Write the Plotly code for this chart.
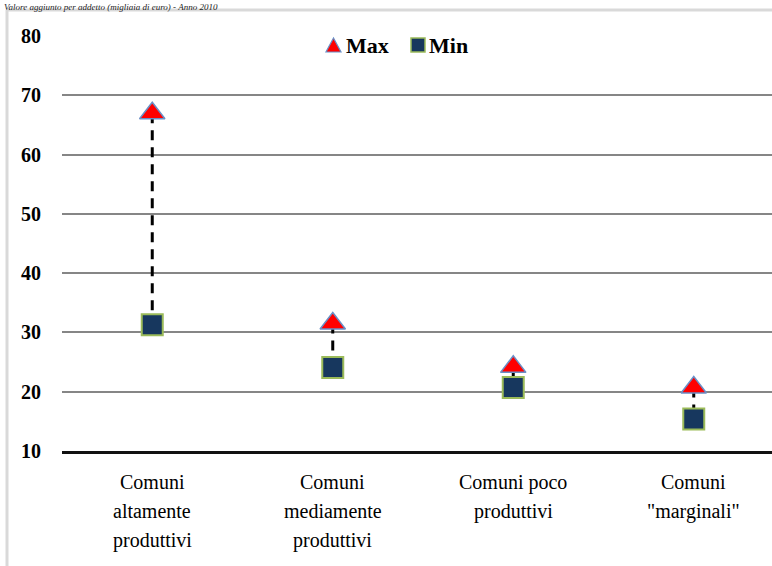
import plotly.graph_objects as go

# Valore aggiunto per addetto (migliaia di euro): massimo e minimo per gruppo di comuni
categories = ["Comuni\naltamente\nproduttivi",
              "Comuni\nmediamente\nproduttivi",
              "Comuni poco\nproduttivi",
              "Comuni\n\"marginali\""]
max_values = [67.0, 31.5, 24.2, 20.7]
min_values = [31.3, 24.1, 20.7, 15.4]
series_names = ["Max", "Min"]
y_ticks = [10, 20, 30, 40, 50, 60, 70, 80]
title_text = "Valore aggiunto per addetto (migliaia di euro) - Anno 2010"

SERIF = "Liberation Serif, Times New Roman, serif"
W, H = 772, 566
L, R, T, B = 62, 0, 36, 115
plot_w, plot_h = W - L - R, H - T - B

MAX_FILL, MAX_EDGE = "#FF0000", "#6A8FC6"
MIN_FILL, MIN_EDGE = "#17375E", "#9BBB59"


def px_x(p):
    return (p - L) / plot_w


def px_y(p):
    return (H - B - p) / plot_h


xs = list(range(len(categories)))

fig = go.Figure()

# high-low connectors
line_x, line_y = [], []
for i in xs:
    line_x += [i, i, None]
    line_y += [max_values[i], min_values[i], None]
fig.add_trace(go.Scatter(
    x=line_x, y=line_y, mode="lines",
    line=dict(color="black", width=3, dash="10px,7px"),
    showlegend=False, hoverinfo="skip"))

fig.add_trace(go.Scatter(
    x=xs, y=max_values, mode="markers", name=series_names[0],
    showlegend=False,
    marker=dict(symbol="triangle-up", size=22, color=MAX_FILL,
                line=dict(color=MAX_EDGE, width=1.5))))

fig.add_trace(go.Scatter(
    x=xs, y=min_values, mode="markers", name=series_names[1],
    showlegend=False,
    marker=dict(symbol="square", size=21, color=MIN_FILL,
                line=dict(color=MIN_EDGE, width=2))))

annotations = []
# category labels, one line per annotation
for i, cat in enumerate(categories):
    for j, line in enumerate(cat.split("\n")):
        annotations.append(dict(
            x=i, xref="x", y=px_y(482 + 29 * j), yref="paper",
            text=line, showarrow=False, xanchor="center", yanchor="middle",
            font=dict(family=SERIF, size=20, color="black")))

# heading above the chart frame
annotations.append(dict(
    x=px_x(2), xref="paper", y=px_y(0), yref="paper",
    text="<i>" + title_text + "</i>", showarrow=False,
    xanchor="left", yanchor="top",
    font=dict(family=SERIF, size=9, color="#222222")))

# legend entries
legend_font = dict(family=SERIF, size=22, color="black", weight="bold")
annotations.append(dict(x=px_x(344), xref="paper", y=px_y(45), yref="paper",
                        text="<b>" + series_names[0] + "</b>", showarrow=False,
                        xanchor="left", yanchor="middle", font=legend_font))
annotations.append(dict(x=px_x(427), xref="paper", y=px_y(45), yref="paper",
                        text="<b>" + series_names[1] + "</b>", showarrow=False,
                        xanchor="left", yanchor="middle", font=legend_font))

shapes = [
    # chart frame (left and top edges)
    dict(type="line", xref="paper", yref="paper",
         x0=px_x(7), x1=px_x(7), y0=px_y(H + 5), y1=px_y(10),
         line=dict(color="#D9D9D9", width=3)),
    dict(type="line", xref="paper", yref="paper",
         x0=px_x(7), x1=px_x(W + 5), y0=px_y(10), y1=px_y(10),
         line=dict(color="#D9D9D9", width=3)),
    # legend keys
    dict(type="path", xref="paper", yref="paper",
         path="M {} {} L {} {} L {} {} Z".format(
             px_x(326), px_y(52), px_x(341), px_y(52), px_x(333.5), px_y(38)),
         fillcolor=MAX_FILL, line=dict(color=MAX_EDGE, width=1.2)),
    dict(type="rect", xref="paper", yref="paper",
         x0=px_x(411), x1=px_x(425), y0=px_y(52), y1=px_y(38),
         fillcolor=MIN_FILL, line=dict(color=MIN_EDGE, width=1.5)),
]

fig.update_layout(
    width=W, height=H,
    margin=dict(l=L, r=R, t=T, b=B, pad=0),
    paper_bgcolor="white", plot_bgcolor="white",
    showlegend=False,
    annotations=annotations,
    shapes=shapes,
    xaxis=dict(range=[-0.5, -0.5 + plot_w / 180.5], showgrid=False,
               zeroline=False, showticklabels=False, ticks="",
               showline=True, linecolor="#111111", linewidth=2.5,
               fixedrange=True),
    yaxis=dict(range=[10, 80.02], tickvals=y_ticks,
               ticktext=[str(v) for v in y_ticks],
               showgrid=True, gridcolor="#868686", gridwidth=2,
               zeroline=False, showline=False, ticks="",
               ticklabelstandoff=20,
               tickfont=dict(family=SERIF, size=20, color="black", weight="bold"),
               fixedrange=True),
)

fig.write_html("out.html")
